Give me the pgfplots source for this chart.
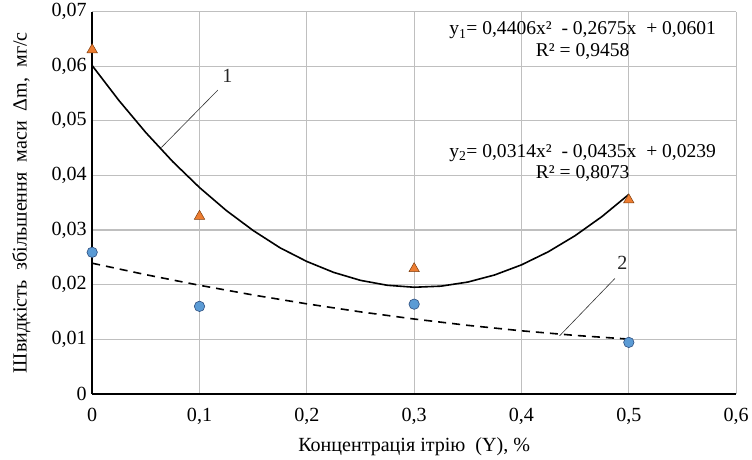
\documentclass[border=0pt]{standalone}
\usepackage{fontspec}
\setmainfont{Liberation Serif}
\usepackage{pgfplots}
\pgfplotsset{compat=1.18}

\definecolor{triorange}{HTML}{ED7D31}
\definecolor{triedge}{HTML}{7F3F10}
\definecolor{dotblue}{HTML}{5B9BD5}
\definecolor{dotedge}{HTML}{2F4F7F}

\begin{document}
\begin{tikzpicture}
\begin{axis}[
  scale only axis,
  width=642pt, height=381pt,
  xmin=0, xmax=0.6, ymin=0, ymax=0.07,
  xtick={0,0.1,0.2,0.3,0.4,0.5,0.6},
  ytick={0,0.01,0.02,0.03,0.04,0.05,0.06,0.07},
  scaled y ticks=false, scaled x ticks=false,
  grid=major,
  grid style={color=lightgray, line width=1.2pt},
  axis x line*=bottom, axis y line*=left,
  axis line style={line width=1.6pt, black},
  tick align=inside,
  major tick length=0pt,
  font=\fontsize{20}{24}\selectfont,
  /pgf/number format/.cd, use comma, fixed, precision=2, assume math mode=true,
  /pgfplots/.cd,
  xticklabel style={yshift=-11pt},
  yticklabel style={xshift=-2pt},
  xlabel={Концентрація ітрію~~(Y),~\%},
  ylabel={Швидкість~~збільшення~~маси~~Δm,~~мг/с},
  xlabel style={yshift=-6pt},
  ylabel style={yshift=14pt},
]
% series 1 trendline
\addplot[black, line width=1.6pt] coordinates {
  (0,0.0601) (0.025,0.05369) (0.05,0.04783) (0.075,0.04252) (0.1,0.03776)
  (0.125,0.03355) (0.15,0.02989) (0.175,0.02673) (0.2,0.02422) (0.225,0.02222)
  (0.25,0.02076) (0.275,0.01986) (0.3,0.01950) (0.325,0.01970) (0.35,0.02045)
  (0.375,0.02175) (0.4,0.02360) (0.425,0.02600) (0.45,0.02895) (0.475,0.03245)
  (0.5,0.0365)
};
% series 2 trendline
\addplot[black, line width=1.6pt, dash pattern=on 8pt off 6pt] coordinates {
  (0,0.0239) (0.05,0.02180) (0.1,0.01986) (0.15,0.01808) (0.2,0.01646)
  (0.25,0.01499) (0.3,0.01368) (0.35,0.01252) (0.4,0.01152) (0.45,0.01068)
  (0.5,0.0100)
};
\addplot[only marks, mark=triangle*, mark size=6pt,
  mark options={fill=triorange, draw=triedge, line width=0.5pt}] coordinates {
  (0,0.0630) (0.1,0.0325) (0.3,0.0229) (0.5,0.0355)
};
\addplot[only marks, mark=*, mark size=5.2pt,
  mark options={fill=dotblue, draw=dotedge, line width=0.6pt}] coordinates {
  (0,0.0259) (0.1,0.0160) (0.3,0.0164) (0.5,0.0094)
};
% leader lines and labels
\draw[line width=0.6pt, black!80] (axis cs:0.0645,0.0451) -- (axis cs:0.117,0.0556);
\node[font=\fontsize{20}{24}\selectfont, text=black!85] at (axis cs:0.126,0.0583) {1};
\draw[line width=0.6pt, black!80] (axis cs:0.4355,0.0106) -- (axis cs:0.487,0.0211);
\node[font=\fontsize{20}{24}\selectfont, text=black!85] at (axis cs:0.494,0.0240) {2};
% trendline equations
\node[font=\fontsize{19.5}{21}\selectfont, align=center] at (axis cs:0.457,0.0647)
  {y\textsubscript{1}= 0,4406x² ~- 0,2675x ~+ 0,0601\\R² = 0,9458};
\node[font=\fontsize{19.5}{21}\selectfont, align=center] at (axis cs:0.457,0.0422)
  {y\textsubscript{2}= 0,0314x² ~- 0,0435x ~+ 0,0239\\R² = 0,8073};
\end{axis}
\path ([xshift=-9pt]current bounding box.west);
\end{tikzpicture}
\end{document}
